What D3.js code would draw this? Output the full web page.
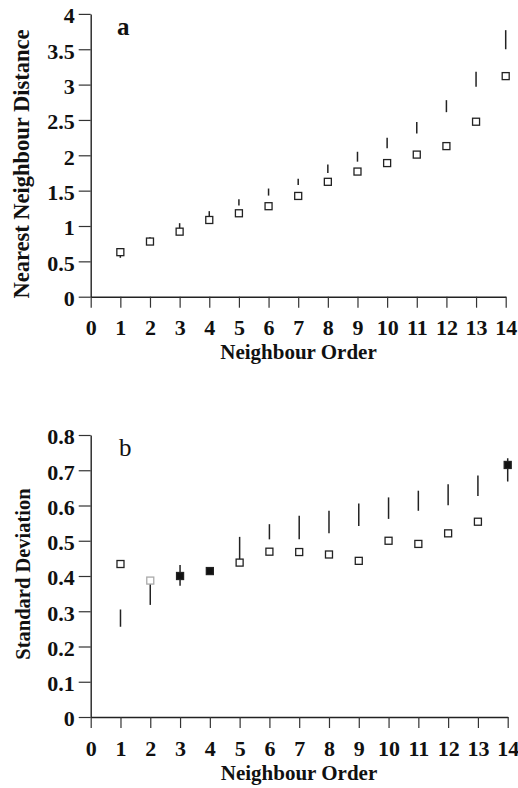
<!DOCTYPE html>
<html>
<head>
<meta charset="utf-8">
<script src="https://cdn.jsdelivr.net/npm/d3@7"></script>
<style>
  body { margin: 0; background: #fff; }
  text { font-family: "Liberation Serif", "Times New Roman", serif; fill: #111; }
</style>
</head>
<body>
<div id="chart"></div>
<script>
// neighbour order 1..14
var orders = [1, 2, 3, 4, 5, 6, 7, 8, 9, 10, 11, 12, 13, 14];
var xTicks = [0, 1, 2, 3, 4, 5, 6, 7, 8, 9, 10, 11, 12, 13, 14];

// panel a : nearest neighbour distance
var nndObserved = [0.63, 0.78, 0.92, 1.085, 1.18, 1.28, 1.425, 1.625, 1.77, 1.89, 2.01, 2.13, 2.475, 3.12];
var nndLow  = [0.55, 0.76, 0.95, 1.13, 1.29, 1.43, 1.58, 1.75, 1.91, 2.10, 2.31, 2.61, 2.97, 3.50];
var nndHigh = [0.64, 0.84, 1.04, 1.21, 1.38, 1.53, 1.67, 1.87, 2.05, 2.25, 2.47, 2.78, 3.18, 3.77];
var nndTicks = [0, 0.5, 1, 1.5, 2, 2.5, 3, 3.5, 4];

// panel b : standard deviation
var sdObserved = [0.434, 0.387, 0.40, 0.414, 0.438, 0.469, 0.468, 0.461, 0.443, 0.50, 0.491, 0.521, 0.554, 0.715];
var sdLow  = [0.256, 0.318, 0.372, 0.405, 0.443, 0.504, 0.504, 0.521, 0.542, 0.562, 0.585, 0.601, 0.627, 0.668];
var sdHigh = [0.305, 0.385, 0.431, 0.42, 0.511, 0.547, 0.571, 0.585, 0.606, 0.623, 0.642, 0.660, 0.685, 0.734];
var sdMarker = ["open", "faint", "filled", "filled", "open", "open", "open", "open", "open", "open", "open", "open", "open", "filled"];
var sdTicks = [0, 0.1, 0.2, 0.3, 0.4, 0.5, 0.6, 0.7, 0.8];

var width = 518, height = 788;

var svg = d3.select("#chart").append("svg")
    .attr("width", width)
    .attr("height", height);

function drawPanel(opt) {
    var x = d3.scaleLinear().domain([0, 14]).range(opt.xRange);
    var y = d3.scaleLinear().domain(opt.yDomain).range(opt.yRange);

    var g = svg.append("g");

    var xAxis = g.append("g")
        .attr("transform", "translate(0," + opt.yRange[0] + ")")
        .call(d3.axisBottom(x).tickValues(xTicks).tickSize(11).tickSizeOuter(0).tickPadding(12)
            .tickFormat(function(d) { return d; }));

    var yAxis = g.append("g")
        .attr("transform", "translate(" + opt.xRange[0] + ",0)")
        .call(d3.axisLeft(y).tickValues(opt.yTicks).tickSize(12).tickSizeOuter(0).tickPadding(4)
            .tickFormat(function(d) { return String(d); }));

    [xAxis, yAxis].forEach(function(ax) {
        ax.select(".domain").attr("stroke", "#222").attr("stroke-width", 1.4);
        ax.selectAll(".tick line").attr("stroke", "#333").attr("stroke-width", 1.2);
        ax.selectAll("text")
            .style("font-family", "'Liberation Serif', 'Times New Roman', serif")
            .style("font-weight", "bold")
            .style("font-size", "22px")
            .attr("fill", "#000");
    });
    yAxis.selectAll("text").attr("dy", "0.4em");

    // range lines
    g.append("g").selectAll("line")
        .data(orders)
        .enter().append("line")
        .attr("x1", function(d) { return x(d); })
        .attr("x2", function(d) { return x(d); })
        .attr("y1", function(d, i) { return y(opt.low[i]); })
        .attr("y2", function(d, i) { return y(opt.high[i]); })
        .attr("stroke", "#222")
        .attr("stroke-width", 1.5);

    // observed squares
    var s = 7;
    g.append("g").selectAll("rect")
        .data(orders)
        .enter().append("rect")
        .attr("x", function(d) { return x(d) - s / 2; })
        .attr("y", function(d, i) { return y(opt.obs[i]) - s / 2; })
        .attr("width", s)
        .attr("height", s)
        .attr("fill", function(d, i) { return opt.marker[i] == "filled" ? "#111" : "#fff"; })
        .attr("stroke", function(d, i) { return opt.marker[i] == "faint" ? "#aaa" : "#222"; })
        .attr("stroke-width", 1.3);

    // panel letter
    g.append("text")
        .attr("x", opt.letterPos[0])
        .attr("y", opt.letterPos[1])
        .attr("font-size", 25)
        .attr("font-weight", opt.letterWeight)
        .text(opt.letter);

    // axis titles
    g.append("text")
        .attr("x", opt.xTitlePos[0])
        .attr("y", opt.xTitlePos[1])
        .attr("text-anchor", "middle")
        .attr("font-weight", "bold")
        .attr("font-size", 21)
        .attr("fill", "#000")
        .text("Neighbour Order");

    g.append("text")
        .attr("transform", "translate(" + opt.yTitlePos[0] + "," + opt.yTitlePos[1] + ") rotate(-90)")
        .attr("text-anchor", "middle")
        .attr("font-weight", "bold")
        .attr("font-size", opt.yTitleSize)
        .attr("fill", "#000")
        .text(opt.yTitle);
}

drawPanel({
    xRange: [90.7, 505.7], yRange: [296.7, 13.9], yDomain: [0, 4], yTicks: nndTicks,
    obs: nndObserved, low: nndLow, high: nndHigh,
    marker: nndObserved.map(function() { return "open"; }),
    letter: "a", letterPos: [117, 35], letterWeight: "bold",
    xTitlePos: [298.5, 359], yTitlePos: [29, 164], yTitle: "Nearest Neighbour Distance", yTitleSize: 22.5
});

drawPanel({
    xRange: [90.7, 507.7], yRange: [717, 435], yDomain: [0, 0.8], yTicks: sdTicks,
    obs: sdObserved, low: sdLow, high: sdHigh, marker: sdMarker,
    letter: "b", letterPos: [119, 456], letterWeight: "normal",
    xTitlePos: [299, 780], yTitlePos: [30, 574], yTitle: "Standard Deviation", yTitleSize: 20.5
});
</script>
</body>
</html>
